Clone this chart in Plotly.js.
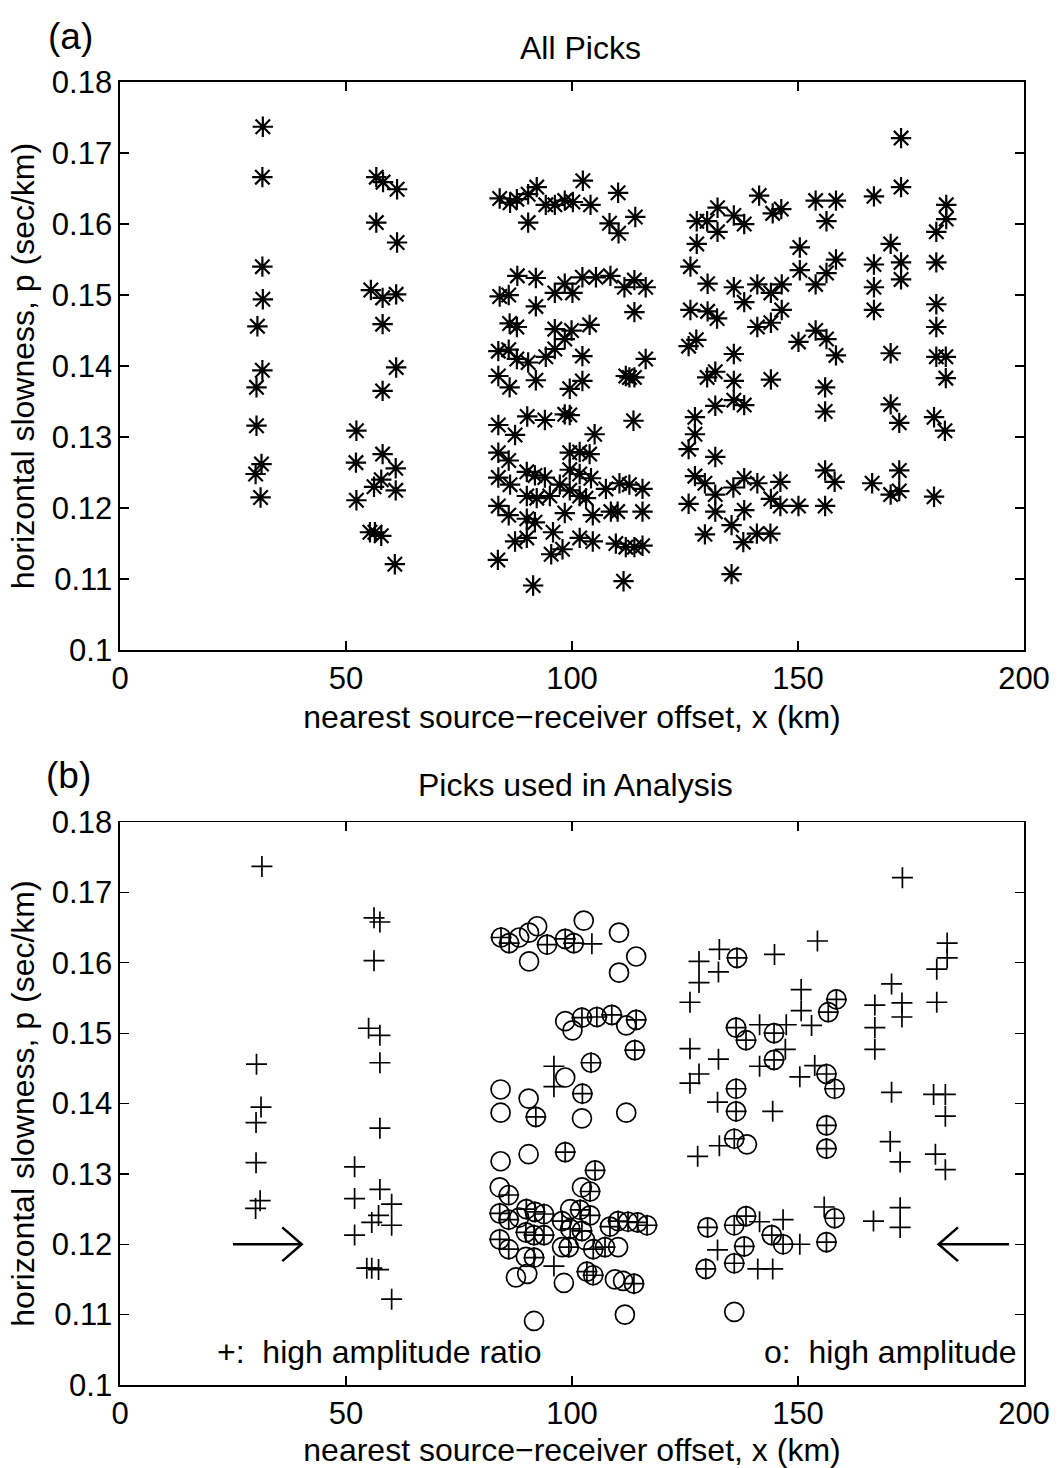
<!DOCTYPE html>
<html>
<head>
<meta charset="utf-8">
<script src="https://cdn.plot.ly/plotly-3.0.1.min.js"></script>
<style>
  html, body { margin: 0; padding: 0; background: #fff; }
  #chart { width: 1064px; height: 1468px; }
</style>
</head>
<body>
<div id="chart"></div>
<script>
// ---------------- Panel (a): all picks ----------------
const allX = [
  31.6, 31.5, 31.5, 31.6, 30.4, 31.5, 30.2, 30.2, 31.3, 30.0, 31.1,
  56.7, 58.2, 61.3, 56.7, 61.3, 55.5, 58.1, 61.1, 58.1, 61.1, 58.1, 52.3, 52.2, 58.1, 61.0, 57.8, 56.2, 61.0, 52.3, 55.3, 56.4, 57.8, 60.8,
  84.0, 86.3, 87.8, 90.3, 92.2, 90.3, 94.2, 96.2, 98.4, 100.2, 102.4, 104.1, 110.2, 108.3, 110.3, 114.0,
  87.9, 92.0, 84.0, 86.0, 92.0, 96.2, 98.4, 100.1, 102.3, 105.3, 108.5, 111.6, 113.8, 116.3, 113.8,
  86.2, 87.8, 96.2, 99.9, 103.9, 98.4, 96.2, 83.7, 86.0, 87.8, 90.3, 94.2, 102.3, 116.3,
  83.7, 86.2, 92.0, 102.3, 99.5, 111.9, 113.8, 112.7,
  83.7, 87.4, 90.1, 94.0, 98.4, 99.5, 105.0, 113.6,
  83.7, 86.0, 99.5, 101.7, 103.9,
  83.7, 86.3, 90.0, 91.8, 94.0, 97.3, 99.5, 101.7, 104.2,
  90.0, 92.2, 95.1, 99.5, 101.7, 103.1, 107.5, 110.5, 112.7, 115.6,
  83.7, 86.0, 90.0, 91.8, 98.4, 104.6, 108.6, 110.1, 115.6,
  87.4, 90.0, 95.8, 101.7, 104.6, 109.7, 111.9, 113.8, 115.6, 95.4, 97.9, 83.6, 91.4, 111.4,
  172.8, 172.8, 166.8, 153.9, 158.4, 156.3, 141.4, 144.4, 146.3, 132.2, 135.8, 138.1, 132.2, 127.6, 129.9, 127.6, 126.2,
  182.8, 182.8, 180.6, 170.5, 172.8, 172.8, 166.8, 166.8, 166.8, 180.6, 180.6, 180.6, 180.6, 182.7, 182.7, 170.5,
  150.4, 150.4, 153.9, 156.3, 158.4, 130.0, 135.8, 138.1, 141.0, 144.0, 146.4, 146.4, 144.0, 141.0, 130.0, 132.1,
  126.2, 127.5, 125.8, 150.1, 153.9, 156.3, 158.4, 135.8, 129.9, 131.7, 135.8, 144.0, 156.0, 156.0,
  170.5, 172.4, 180.1, 182.5, 131.7, 135.8, 138.1, 127.2, 127.2, 125.8, 131.7,
  127.2, 129.4, 131.7, 135.7, 138.1, 141.0, 144.0, 146.1, 146.1, 150.1, 156.0, 156.0, 158.1, 166.4, 170.5, 172.4, 172.4, 180.1,
  131.7, 138.1, 135.3, 129.4, 137.9, 140.9, 143.9, 135.3, 125.8
];
const allP = [
  0.1737, 0.1666, 0.1540, 0.1494, 0.1456, 0.1394, 0.1370, 0.1316, 0.1262, 0.1248, 0.1215,
  0.1666, 0.1659, 0.1649, 0.1602, 0.1574, 0.1507, 0.1496, 0.1501, 0.1459, 0.1398, 0.1365, 0.1309, 0.1264, 0.1276, 0.1256, 0.1240, 0.1230, 0.1225, 0.1211, 0.1166, 0.1166, 0.1161, 0.1121,
  0.1636, 0.1630, 0.1635, 0.1642, 0.1652, 0.1602, 0.1627, 0.1627, 0.1633, 0.1631, 0.1661, 0.1627, 0.1644, 0.1601, 0.1587, 0.1610,
  0.1527, 0.1524, 0.1498, 0.1500, 0.1484, 0.1503, 0.1516, 0.1503, 0.1525, 0.1525, 0.1527, 0.1511, 0.1521, 0.1511, 0.1476,
  0.1460, 0.1455, 0.1452, 0.1450, 0.1458, 0.1438, 0.1424, 0.1421, 0.1423, 0.1410, 0.1405, 0.1413, 0.1414, 0.1410,
  0.1386, 0.1370, 0.1380, 0.1379, 0.1368, 0.1386, 0.1384, 0.1384,
  0.1317, 0.1303, 0.1329, 0.1324, 0.1332, 0.1331, 0.1304, 0.1323,
  0.1278, 0.1267, 0.1278, 0.1279, 0.1276,
  0.1243, 0.1233, 0.1251, 0.1246, 0.1243, 0.1233, 0.1254, 0.1248, 0.1242,
  0.1217, 0.1214, 0.1217, 0.1225, 0.1217, 0.1214, 0.1227, 0.1235, 0.1233, 0.1227,
  0.1203, 0.1190, 0.1185, 0.1180, 0.1193, 0.1190, 0.1195, 0.1195, 0.1195,
  0.1153, 0.1158, 0.1166, 0.1158, 0.1153, 0.1150, 0.1145, 0.1145, 0.1147, 0.1135, 0.1142, 0.1127, 0.1091, 0.1097,
  0.1721, 0.1652, 0.1639, 0.1633, 0.1633, 0.1604, 0.1640, 0.1615, 0.1621, 0.1623, 0.1612, 0.1600, 0.1589, 0.1604, 0.1604, 0.1572, 0.1540,
  0.1627, 0.1607, 0.1589, 0.1572, 0.1546, 0.1522, 0.1543, 0.1511, 0.1479, 0.1546, 0.1487, 0.1455, 0.1413, 0.1413, 0.1383, 0.1418,
  0.1567, 0.1535, 0.1515, 0.1531, 0.1550, 0.1516, 0.1511, 0.1490, 0.1515, 0.1503, 0.1515, 0.1479, 0.1461, 0.1455, 0.1477, 0.1467,
  0.1479, 0.1437, 0.1428, 0.1434, 0.1450, 0.1438, 0.1415, 0.1417, 0.1384, 0.1392, 0.1379, 0.1381, 0.1370, 0.1336,
  0.1346, 0.1320, 0.1328, 0.1309, 0.1344, 0.1352, 0.1345, 0.1328, 0.1304, 0.1283, 0.1272,
  0.1245, 0.1235, 0.1219, 0.1229, 0.1242, 0.1235, 0.1213, 0.1237, 0.1203, 0.1203, 0.1203, 0.1253, 0.1237, 0.1235, 0.1219, 0.1224, 0.1253, 0.1216,
  0.1195, 0.1197, 0.1176, 0.1163, 0.1152, 0.1164, 0.1164, 0.1107, 0.1206
];

// ---------------- Panel (b): picks used in analysis ----------------
// "+" : high amplitude ratio
const ratioX = [
  31.4, 30.2, 31.2, 30.1, 30.1, 31.0, 30.0,
  56.2, 57.5, 56.2, 55.0, 57.5, 57.5, 57.5, 51.9, 51.9, 57.5, 60.1, 57.2, 55.7, 60.1, 51.9, 54.6, 55.7, 57.2, 60.1,
  84.3, 86.1, 94.5, 98.5, 100.4, 104.4,
  102.2, 105.5, 108.8, 114.2, 113.9, 104.2, 96.0, 96.0, 102.3, 92.0, 98.5, 105.1,
  86.0, 104.0, 84.0, 86.0, 89.9, 91.8, 93.8, 89.8, 91.6, 93.8, 101.8, 104.0, 97.8, 99.6, 102.2,
  108.4, 110.2, 112.4, 114.5, 116.6, 84.0, 86.0, 91.6, 99.3, 104.7, 107.3, 96.0, 103.3, 104.7, 113.7,
  173.1, 154.3, 144.8, 132.6, 136.5, 132.4, 128.1, 128.1, 126.1,
  183.0, 183.0, 180.7, 170.7, 173.0, 173.0, 180.7, 167.0, 167.0, 167.0,
  150.7, 150.7, 158.5, 156.7, 153.0, 136.3, 138.5, 141.5, 144.7, 147.4, 147.2, 144.7, 141.5,
  132.4, 128.1, 126.1, 126.1, 150.4, 153.7, 156.3, 158.1, 136.3, 132.2, 136.3, 144.4, 156.3, 156.3,
  170.7, 180.0, 182.6, 182.6, 170.4, 172.6, 180.4, 182.6, 135.9, 132.6, 127.8,
  155.8, 158.1, 166.7, 172.6, 172.6, 138.5, 141.5, 146.7, 135.9, 130.0,
  132.2, 138.1, 144.2, 146.7, 150.4, 156.3, 129.6, 135.9, 141.1, 144.4
];
const ratioP = [
  0.1737, 0.1456, 0.1395, 0.1373, 0.1316, 0.1262, 0.1251,
  0.1664, 0.1658, 0.1603, 0.1507, 0.1497, 0.1458, 0.1365, 0.1310, 0.1265, 0.1278, 0.1257, 0.1241, 0.1231, 0.1227, 0.1213, 0.1166, 0.1166, 0.1164, 0.1122,
  0.1636, 0.1628, 0.1626, 0.1634, 0.1628, 0.1627,
  0.1522, 0.1523, 0.1526, 0.1519, 0.1476, 0.1458, 0.1453, 0.1424, 0.1414, 0.1381, 0.1331, 0.1305,
  0.1270, 0.1275, 0.1244, 0.1235, 0.1250, 0.1246, 0.1243, 0.1217, 0.1213, 0.1213, 0.1249, 0.1241, 0.1233, 0.1222, 0.1219,
  0.1225, 0.1233, 0.1232, 0.1231, 0.1227, 0.1207, 0.1193, 0.1181, 0.1196, 0.1193, 0.1196, 0.1169, 0.1161, 0.1156, 0.1144,
  0.1721, 0.1631, 0.1612, 0.1619, 0.1607, 0.1587, 0.1602, 0.1572, 0.1544,
  0.1628, 0.1607, 0.1591, 0.1570, 0.1543, 0.1523, 0.1544, 0.1540, 0.1508, 0.1477,
  0.1562, 0.1532, 0.1548, 0.1530, 0.1511, 0.1508, 0.1490, 0.1512, 0.1500, 0.1512, 0.1477, 0.1462, 0.1453,
  0.1463, 0.1442, 0.1478, 0.1429, 0.1438, 0.1454, 0.1442, 0.1421, 0.1421, 0.1402, 0.1389, 0.1389, 0.1369, 0.1336,
  0.1416, 0.1413, 0.1413, 0.1382, 0.1346, 0.1317, 0.1328, 0.1306, 0.1350, 0.1340, 0.1325,
  0.1253, 0.1237, 0.1233, 0.1252, 0.1224, 0.1240, 0.1232, 0.1235, 0.1227, 0.1224,
  0.1192, 0.1197, 0.1213, 0.1200, 0.1200, 0.1203, 0.1165, 0.1173, 0.1165, 0.1165
];
// "o" : high amplitude
const ampX = [
  84.3, 86.1, 88.3, 90.5, 92.3, 90.5, 94.5, 98.5, 100.4, 102.6, 110.4, 114.2, 110.4,
  98.5, 100.1, 102.2, 105.5, 108.8, 112.0, 114.2, 113.9, 104.2, 98.5, 102.3,
  84.2, 90.4, 84.2, 92.0, 102.2, 112.0, 84.2, 90.4, 98.5, 105.1,
  84.0, 86.0, 102.2, 104.0, 84.0, 86.0, 89.9, 91.8, 93.8, 88.3, 89.8, 91.6, 93.8,
  99.6, 101.8, 104.0, 97.8, 99.6, 102.2, 108.4, 110.2, 112.4, 114.5, 116.6,
  84.0, 86.0, 91.6, 89.8, 99.3, 97.8, 104.7, 102.9, 107.3, 110.2,
  87.6, 90.1, 98.2, 103.3, 104.7, 109.5, 111.3, 113.7, 91.6, 111.7,
  136.5, 158.5, 156.7, 136.3, 138.5, 144.7, 144.7, 156.3, 158.1, 136.3, 136.3, 156.3, 156.3,
  135.9, 138.7, 158.1, 138.5, 135.9, 130.0, 138.1, 144.2, 146.7, 156.3, 129.6, 135.9, 135.9
];
const ampP = [
  0.1636, 0.1628, 0.1636, 0.1643, 0.1652, 0.1602, 0.1626, 0.1634, 0.1628, 0.1660, 0.1643, 0.1609, 0.1586,
  0.1517, 0.1504, 0.1522, 0.1523, 0.1526, 0.1511, 0.1519, 0.1476, 0.1458, 0.1437, 0.1414,
  0.1420, 0.1407, 0.1387, 0.1381, 0.1379, 0.1387, 0.1318, 0.1328, 0.1331, 0.1305,
  0.1281, 0.1270, 0.1281, 0.1275, 0.1244, 0.1235, 0.1250, 0.1246, 0.1243, 0.1238, 0.1217, 0.1213, 0.1213,
  0.1250, 0.1249, 0.1241, 0.1233, 0.1222, 0.1219, 0.1225, 0.1233, 0.1232, 0.1231, 0.1227,
  0.1207, 0.1193, 0.1181, 0.1182, 0.1196, 0.1196, 0.1193, 0.1206, 0.1196, 0.1196,
  0.1153, 0.1158, 0.1145, 0.1161, 0.1156, 0.1150, 0.1148, 0.1144, 0.1091, 0.1100,
  0.1607, 0.1548, 0.1530, 0.1508, 0.1490, 0.1500, 0.1462, 0.1442, 0.1421, 0.1421, 0.1389, 0.1369, 0.1336,
  0.1350, 0.1342, 0.1237, 0.1240, 0.1227, 0.1224, 0.1197, 0.1213, 0.1200, 0.1203, 0.1165, 0.1173, 0.1104
];

// Axis ticks and labels
const xTicks = [0, 50, 100, 150, 200];
const pTicks = [0.1, 0.11, 0.12, 0.13, 0.14, 0.15, 0.16, 0.17, 0.18];
const pTickText = ['0.1', '0.11', '0.12', '0.13', '0.14', '0.15', '0.16', '0.17', '0.18'];

// Arrows marking p = 0.12 in panel (b)
const arrowP = 0.12;
const arrowLeftSide = [25.0, 40.2];    // tail, head (points right)
const arrowRightSide = [196.7, 181.1]; // tail, head (points left)

// ------------------------------------------------------------------
const FONT = 'Liberation Sans, Arial, Helvetica, sans-serif';
const headLen = 4.3, headHalf = 0.0024;

function arrowTrace(seg) {
  const tail = seg[0], head = seg[1];
  const dir = head > tail ? 1 : -1;
  return {
    x: [tail, head, null, head - dir * headLen, head, head - dir * headLen],
    y: [arrowP, arrowP, null, arrowP + headHalf, arrowP, arrowP - headHalf],
    xaxis: 'x2', yaxis: 'y2', mode: 'lines',
    line: { color: 'black', width: 2.5 },
    hoverinfo: 'skip', showlegend: false
  };
}

const traces = [
  {
    x: allX, y: allP, xaxis: 'x', yaxis: 'y', mode: 'markers', name: 'All picks',
    marker: { symbol: 'asterisk-open', size: 17, color: 'black', line: { width: 2.2, color: 'black' } }
  },
  {
    x: ampX, y: ampP, xaxis: 'x2', yaxis: 'y2', mode: 'markers', name: 'o: high amplitude',
    marker: { symbol: 'circle-open', size: 19, color: 'black', line: { width: 1.7, color: 'black' } }
  },
  {
    x: ratioX, y: ratioP, xaxis: 'x2', yaxis: 'y2', mode: 'markers', name: '+: high amplitude ratio',
    marker: { symbol: 'cross-thin-open', size: 15, color: 'black', line: { width: 1.7, color: 'black' } }
  },
  arrowTrace(arrowLeftSide),
  arrowTrace(arrowRightSide)
];

function xAxis(anchor) {
  return {
    anchor: anchor, range: [0, 200], tickvals: xTicks, ticktext: xTicks.map(String),
    ticks: 'inside', ticklen: 9, tickwidth: 1.3, tickcolor: 'black',
    showline: true, mirror: 'ticks', linecolor: 'black', linewidth: 1.6,
    showgrid: false, zeroline: false,
    tickfont: { family: FONT, size: 31, color: 'black' },
    title: { text: 'nearest source\u2212receiver offset, x (km)', font: { family: FONT, size: 32, color: 'black' }, standoff: 10 }
  };
}
function yAxis(anchor, domain) {
  return {
    anchor: anchor, domain: domain, range: [0.1, 0.18], tickvals: pTicks, ticktext: pTickText,
    ticks: 'inside', ticklen: 9, tickwidth: 1.3, tickcolor: 'black',
    showline: true, mirror: 'ticks', linecolor: 'black', linewidth: 1.6,
    showgrid: false, zeroline: false,
    tickfont: { family: FONT, size: 31, color: 'black' },
    title: { text: 'horizontal slowness, p (sec/km)', font: { family: FONT, size: 32, color: 'black' }, standoff: 7 }
  };
}

const layout = {
  width: 1064, height: 1468,
  margin: { l: 120, r: 40, t: 82, b: 83 },
  paper_bgcolor: 'white', plot_bgcolor: 'white',
  showlegend: false,
  font: { family: FONT, size: 31, color: 'black' },
  xaxis: xAxis('y'),
  yaxis: yAxis('x', [0.564, 1]),
  xaxis2: xAxis('y2'),
  yaxis2: yAxis('x2', [0, 0.432]),
  annotations: [
    { text: '(a)', xref: 'paper', yref: 'paper', x: -0.0553, y: 1.0353, xanchor: 'center', yanchor: 'middle', showarrow: false, font: { family: FONT, size: 37 } },
    { text: 'All Picks', xref: 'paper', yref: 'paper', x: 0.509, y: 1.0261, xanchor: 'center', yanchor: 'middle', showarrow: false, font: { family: FONT, size: 32 } },
    { text: '(b)', xref: 'paper', yref: 'paper', x: -0.0575, y: 0.4674, xanchor: 'center', yanchor: 'middle', showarrow: false, font: { family: FONT, size: 37 } },
    { text: 'Picks used in Analysis', xref: 'paper', yref: 'paper', x: 0.504, y: 0.4605, xanchor: 'center', yanchor: 'middle', showarrow: false, font: { family: FONT, size: 32 } },
    { text: '+:\u00a0 high amplitude ratio', xref: 'x2', yref: 'y2', x: 21.0, y: 0.1047, xanchor: 'left', yanchor: 'middle', showarrow: false, font: { family: FONT, size: 32 } },
    { text: 'o:\u00a0 high amplitude', xref: 'x2', yref: 'y2', x: 198.8, y: 0.1047, xanchor: 'right', yanchor: 'middle', showarrow: false, font: { family: FONT, size: 32 } }
  ]
};

Plotly.newPlot('chart', traces, layout, { staticPlot: true, displayModeBar: false });
</script>
</body>
</html>
